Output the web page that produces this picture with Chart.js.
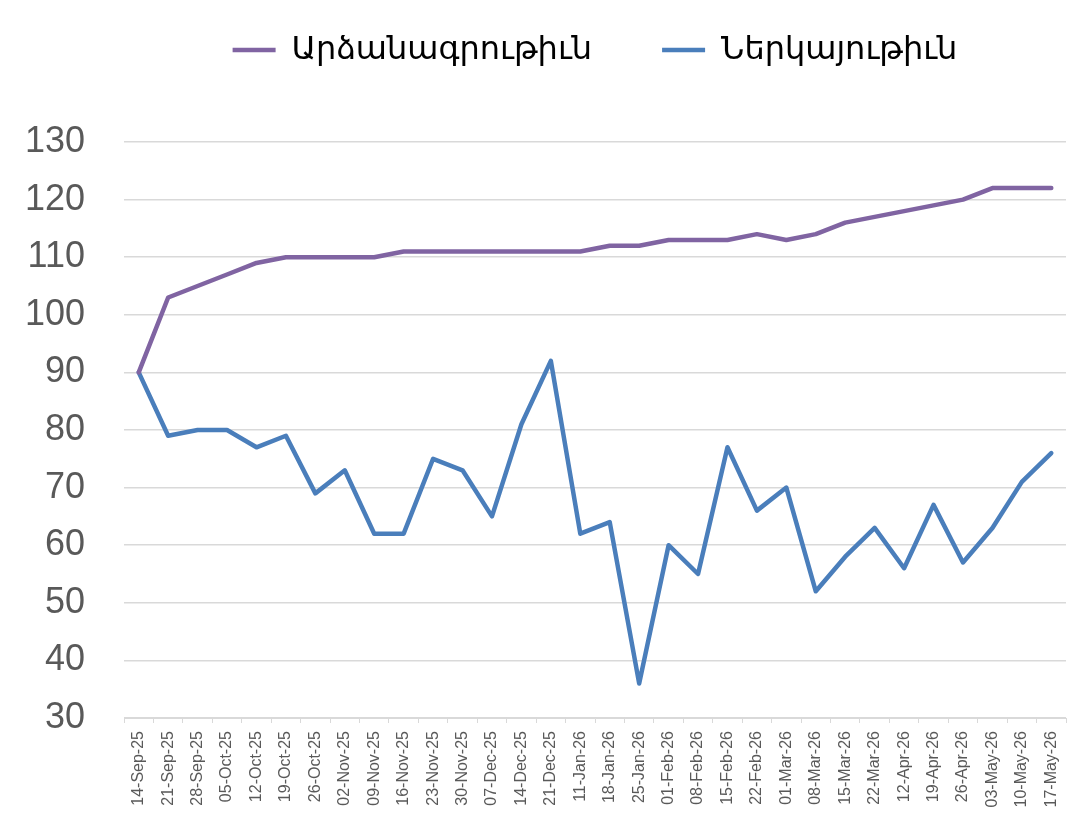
<!DOCTYPE html>
<html>
<head>
<meta charset="utf-8">
<script src="https://cdn.jsdelivr.net/npm/chart.js@4.4.0/dist/chart.umd.min.js"></script>
<style>
    body { margin: 0; background: #ffffff; }
    #wrap { width: 1090px; height: 817px; position: relative; }
</style>
</head>
<body>
<div id="wrap"><canvas id="attendanceChart"></canvas></div>
<script>
// weekly dates
var weeks = ["14-Sep-25", "21-Sep-25", "28-Sep-25", "05-Oct-25", "12-Oct-25", "19-Oct-25", "26-Oct-25",
    "02-Nov-25", "09-Nov-25", "16-Nov-25", "23-Nov-25", "30-Nov-25", "07-Dec-25", "14-Dec-25", "21-Dec-25",
    "11-Jan-26", "18-Jan-26", "25-Jan-26", "01-Feb-26", "08-Feb-26", "15-Feb-26", "22-Feb-26", "01-Mar-26",
    "08-Mar-26", "15-Mar-26", "22-Mar-26", "12-Apr-26", "19-Apr-26", "26-Apr-26", "03-May-26", "10-May-26", "17-May-26"];

var registered = [90, 103, 105, 107, 109, 110, 110, 110, 110, 111, 111, 111, 111, 111, 111,
    111, 112, 112, 113, 113, 113, 114, 113, 114, 116, 117, 118, 119, 120, 122, 122, 122];
var present = [90, 79, 80, 80, 77, 79, 69, 73, 62, 62, 75, 73, 65, 81, 92,
    62, 64, 36, 60, 55, 77, 66, 70, 52, 58, 63, 56, 67, 57, 63, 71, 76];

var seriesNames = ["Արձանագրութիւն", "Ներկայութիւն"];
var yTicks = { min: 30, max: 130, step: 10 };

var gridGrey = "#d9d9d9";
var labelGrey = "#595959";
var fontName = "'Liberation Sans', Arial, sans-serif";

// keep the legend tall so the plot starts where the original does
var legendSpace = {
    id: "legendSpace",
    beforeInit: function (chart) {
        var lg = chart.legend;
        if (!lg) return;
        var origFit = lg.fit;
        lg.fit = function () {
            origFit.call(this);
            this.height = 178;
        };
    }
};

var config = {
    type: "line",
    data: {
        labels: weeks,
        datasets: [{
            label: seriesNames[0],
            data: registered,
            borderColor: "#8064a2",
            backgroundColor: "#8064a2",
            borderWidth: 4.5,
            borderCapStyle: "round",
            borderJoinStyle: "round",
            pointRadius: 0,
            tension: 0,
            fill: false
        }, {
            label: seriesNames[1],
            data: present,
            borderColor: "#4a7ebb",
            backgroundColor: "#4a7ebb",
            borderWidth: 4.5,
            borderCapStyle: "round",
            borderJoinStyle: "round",
            pointRadius: 0,
            tension: 0,
            fill: false
        }]
    },
    options: {
        responsive: true,
        maintainAspectRatio: false,
        animation: false,
        layout: { padding: { top: -36, left: 0, right: 24, bottom: 0 } },
        plugins: {
            tooltip: { enabled: false },
            legend: {
                position: "top",
                fullSize: false,
                labels: {
                    usePointStyle: true,
                    pointStyle: "line",
                    pointStyleWidth: 43,
                    padding: 70,
                    color: "#000000",
                    font: { family: "'Noto Sans', 'DejaVu Sans', sans-serif", size: 32 }
                }
            }
        },
        scales: {
            x: {
                type: "category",
                offset: true,
                grid: {
                    display: true,
                    drawOnChartArea: false,
                    drawTicks: true,
                    tickLength: 5,
                    offset: true,
                    color: gridGrey
                },
                border: { display: true, color: gridGrey, width: 1 },
                ticks: {
                    autoSkip: false,
                    minRotation: 90,
                    maxRotation: 90,
                    padding: 8,
                    color: labelGrey,
                    font: { family: fontName, size: 16 }
                },
                afterFit: function (scale) { scale.height = 99; }
            },
            y: {
                min: yTicks.min,
                max: yTicks.max,
                grid: { color: gridGrey, lineWidth: 1.5, drawTicks: false },
                border: { display: false },
                ticks: {
                    stepSize: yTicks.step,
                    padding: 39,
                    color: labelGrey,
                    font: { family: fontName, size: 36 }
                },
                afterFit: function (scale) { scale.width = 124; }
            }
        }
    },
    plugins: [legendSpace]
};

new Chart(document.getElementById("attendanceChart"), config);
</script>
</body>
</html>
